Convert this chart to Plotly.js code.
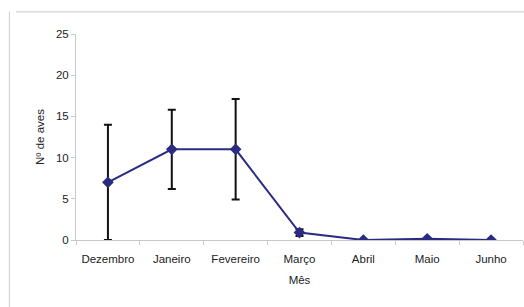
<!DOCTYPE html>
<html><head><meta charset="utf-8">
<script src="https://cdn.plot.ly/plotly-3.0.1.min.js"></script>
<style>body{margin:0;padding:0;background:#fff}#chart{width:524px;height:307px}</style>
</head><body><div id="chart"></div>
<script>
const months = ["Dezembro","Janeiro","Fevereiro","Março","Abril","Maio","Junho"];
const aves = [7, 11, 11, 0.9, 0, 0.15, 0];
const erro = [7, 4.8, 6.1, 0.4, 0, 0, 0];

const trace = {
  x: months, y: aves, type: "scatter", mode: "lines+markers",
  line: {color: "#2B2B82", width: 2},
  marker: {symbol: "diamond", size: 9, color: "#2B2B82"},
  error_y: {type: "data", array: erro, visible: true, color: "#111111", thickness: 2, width: 4}
};
const layout = {
  width: 524, height: 307,
  margin: {l: 76, r: 1, t: 34, b: 67},
  paper_bgcolor: "#fff", plot_bgcolor: "#fff",
  showlegend: false,
  font: {family: "Liberation Sans, Arial, sans-serif", size: 11.5, color: "#222"},
  xaxis: {
    type: "category", range: [-0.5, 6.5], tickson: "boundaries",
    ticks: "outside", ticklen: 4, tickcolor: "#c8c8c8",
    ticklabelstandoff: 8,
    showline: true, linecolor: "#c8c8c8", linewidth: 1,
    showgrid: false, zeroline: false,
    title: {text: "Mês", font: {size: 11.5}, standoff: 12}
  },
  yaxis: {
    range: [0, 25], dtick: 5, ticks: "outside", ticklen: 4, tickcolor: "#c8c8c8",
    showline: true, linecolor: "#c8c8c8", linewidth: 1,
    showgrid: false, zeroline: false,
    title: {text: "Nº de aves", font: {size: 11.5}, standoff: 8}
  },
  shapes: [
    {type: "line", xref: "paper", yref: "paper", x0: -0.134, x1: 1.01, y0: 1.108, y1: 1.108, line: {color: "#e0e0e0", width: 2}},
    {type: "line", xref: "paper", yref: "paper", x0: -0.149, x1: -0.149, y0: 1.11, y1: -0.33, line: {color: "#cfcfcf", width: 1}}
  ]
};
Plotly.newPlot("chart", [trace], layout, {displayModeBar: false, staticPlot: true});
</script></body></html>
